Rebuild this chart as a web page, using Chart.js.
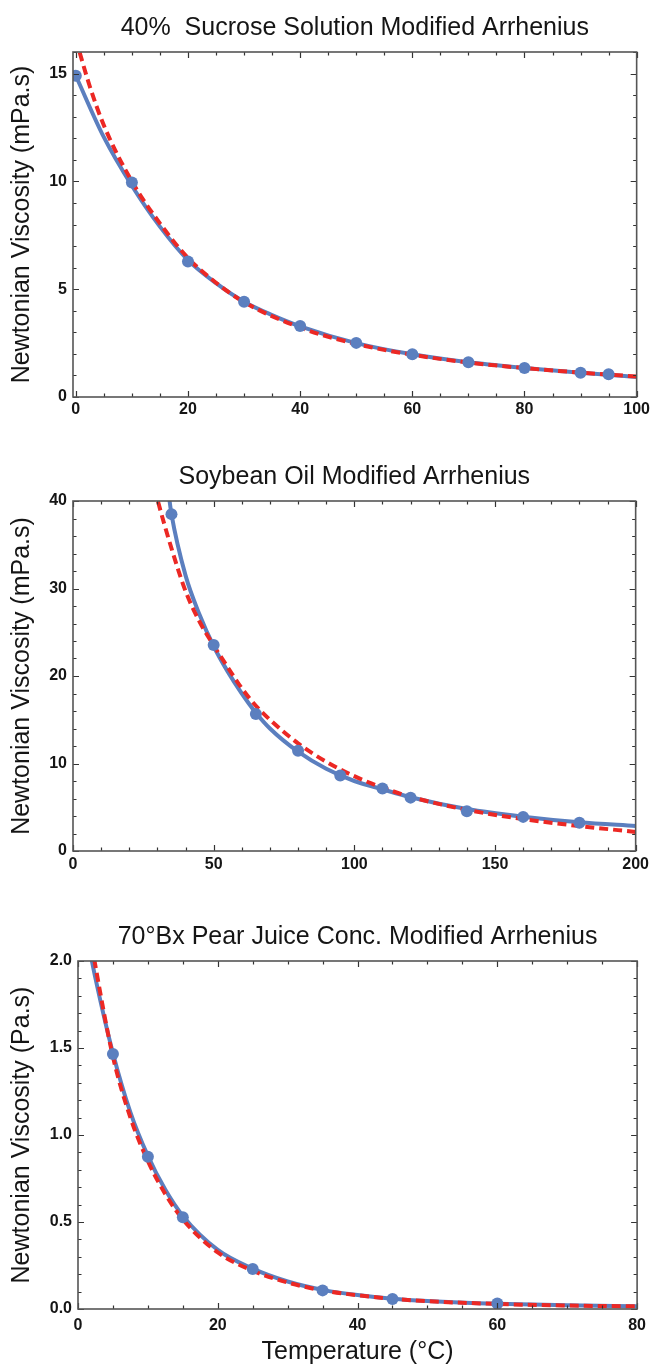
<!DOCTYPE html>
<html>
<head>
<meta charset="utf-8">
<script src="https://cdn.jsdelivr.net/npm/chart.js@4.4.1/dist/chart.umd.min.js"></script>
<style>
    html, body { margin: 0; padding: 0; background: #fff; }
    body { width: 653px; height: 1372px; position: relative; overflow: hidden; }
    canvas { position: absolute; left: 0; }
</style>
</head>
<body>
<canvas id="sucroseChart" width="653" height="440" style="top:0px"></canvas>
<canvas id="soyChart" width="653" height="440" style="top:449px"></canvas>
<canvas id="pearChart" width="653" height="463" style="top:909px"></canvas>
<script>
(function () {
    'use strict';

    // 40% sucrose solution (mPa.s)
    var sucroseTemp = [0, 10, 20, 30, 40, 50, 60, 70, 80, 90, 95];
    var sucroseVisc = [14.9, 9.95, 6.28, 4.42, 3.29, 2.51, 1.98, 1.61, 1.35, 1.13, 1.05];
    var sucroseFitT = [0, 5, 10, 15, 20, 25, 30, 35, 40, 50, 60, 70, 80, 90, 100];
    var sucroseFit = [14.9, 12.05, 9.8, 7.9, 6.35, 5.28, 4.42, 3.8, 3.28, 2.5, 1.98, 1.61, 1.35, 1.13, 0.93];
    var sucroseArrT = [0, 2.5, 5, 10, 15, 20, 25, 30, 40, 50, 60, 70, 80, 90, 100];
    var sucroseArr = [16.6, 14.4, 12.6, 10.0, 8.05, 6.45, 5.3, 4.4, 3.22, 2.46, 1.96, 1.6, 1.34, 1.13, 0.95];
    var sucroseXTicks = [0, 20, 40, 60, 80, 100];
    var sucroseYTicks = [0, 5, 10, 15];

    // soybean oil (mPa.s)
    var soyTemp = [35, 50, 65, 80, 95, 110, 120, 140, 160, 180];
    var soyVisc = [38.5, 23.55, 15.65, 11.45, 8.62, 7.14, 6.1, 4.54, 3.9, 3.24];
    var soyFitT = [34, 35, 40, 45, 50, 55, 60, 65, 70, 80, 90, 100, 110, 120, 140, 160, 180, 200];
    var soyFit = [40.8, 38.5, 31.5, 27.0, 23.4, 20.5, 18.0, 15.8, 14.0, 11.35, 9.4, 8.0, 7.05, 6.15, 4.8, 3.92, 3.28, 2.86];
    var soyArrT = [29, 30, 35, 40, 45, 50, 55, 60, 65, 70, 80, 90, 100, 110, 120, 140, 160, 180, 200];
    var soyArr = [41.5, 40.2, 34.6, 29.7, 26.2, 23.5, 21.0, 18.6, 16.6, 15.0, 12.3, 10.2, 8.55, 7.25, 6.2, 4.7, 3.65, 2.85, 2.18];
    var soyXTicks = [0, 50, 100, 150, 200];
    var soyYTicks = [0, 10, 20, 30, 40];

    // 70 Bx pear juice concentrate (Pa.s)
    var pearTemp = [5, 10, 15, 25, 35, 45, 60];
    var pearVisc = [1.466, 0.875, 0.527, 0.23, 0.107, 0.057, 0.031];
    var pearFitT = [1.5, 2.5, 5, 7.5, 10, 12.5, 15, 20, 25, 30, 35, 40, 45, 50, 60, 70, 80];
    var pearFit = [2.1, 1.9, 1.47, 1.13, 0.88, 0.685, 0.535, 0.34, 0.232, 0.158, 0.11, 0.08, 0.059, 0.046, 0.03, 0.021, 0.016];
    var pearArrT = [2, 2.5, 5, 7.5, 10, 12.5, 15, 20, 25, 30, 35, 40, 45, 50, 60, 70, 80];
    var pearArr = [2.09, 1.97, 1.45, 1.1, 0.85, 0.66, 0.515, 0.325, 0.22, 0.152, 0.107, 0.079, 0.059, 0.045, 0.029, 0.02, 0.015];
    var pearXTicks = [0, 20, 40, 60, 80];
    var pearYTicks = [0, 0.5, 1.0, 1.5, 2.0];

    var BLUE = '#5b7fbf';
    var RED = '#ec2824';
    var INK = '#151515';
    var SANS = '"Liberation Sans", Arial, Helvetica, sans-serif';

    function pts(xs, ys) {
        return xs.map(function (x, i) { return { x: x, y: ys[i] }; });
    }

    function range(a, b, step) {
        var out = [];
        for (var v = a; v <= b + 1e-9; v += step) out.push(Math.round(v * 1000) / 1000);
        return out;
    }

    // frame + inward ticks on all four sides
    var boxTicks = {
        id: 'boxTicks',
        afterDraw: function (chart, args, o) {
            var a = chart.chartArea, ctx = chart.ctx;
            var xs = chart.scales.x, ys = chart.scales.y;
            ctx.save();
            ctx.strokeStyle = '#333';
            ctx.lineWidth = 1.2;
            ctx.beginPath();
            function xMarks(vals, len) {
                vals.forEach(function (v) {
                    var p = Math.round(xs.getPixelForValue(v)) + 0.5;
                    ctx.moveTo(p, a.bottom); ctx.lineTo(p, a.bottom - len);
                    ctx.moveTo(p, a.top); ctx.lineTo(p, a.top + len);
                });
            }
            function yMarks(vals, len) {
                vals.forEach(function (v) {
                    var p = Math.round(ys.getPixelForValue(v)) + 0.5;
                    ctx.moveTo(a.left, p); ctx.lineTo(a.left + len, p);
                    ctx.moveTo(a.right, p); ctx.lineTo(a.right - len, p);
                });
            }
            xMarks(o.xMinor, 3.5);
            xMarks(o.xMajor, 6);
            yMarks(o.yMinor, 3.5);
            yMarks(o.yMajor, 6);
            ctx.stroke();
            ctx.strokeStyle = '#555';
            ctx.lineWidth = 1.6;
            ctx.strokeRect(a.left, a.top, a.right - a.left, a.bottom - a.top);
            ctx.restore();
        }
    };

    function makeChart(id, o) {
        var canvas = document.getElementById(id);
        if (!canvas || typeof Chart === 'undefined') return null;
        return new Chart(canvas.getContext('2d'), {
            type: 'line',
            data: {
                datasets: [
                    {
                        label: 'measured',
                        data: pts(o.t, o.v),
                        showLine: false,
                        pointRadius: 6,
                        pointBackgroundColor: BLUE,
                        pointBorderWidth: 0,
                        order: 0
                    },
                    {
                        label: 'modified Arrhenius',
                        data: pts(o.arrT, o.arr),
                        borderColor: RED,
                        borderWidth: 4,
                        borderDash: [9, 5],
                        pointRadius: 0,
                        cubicInterpolationMode: 'monotone',
                        clip: 0,
                        order: 1
                    },
                    {
                        label: 'fit',
                        data: pts(o.fitT, o.fit),
                        borderColor: BLUE,
                        borderWidth: 4,
                        pointRadius: 0,
                        cubicInterpolationMode: 'monotone',
                        clip: 0,
                        order: 2
                    }
                ]
            },
            options: {
                responsive: false,
                animation: false,
                devicePixelRatio: 1,
                layout: { padding: { left: 0, right: 653 - o.right, top: 0, bottom: 0 } },
                plugins: {
                    legend: { display: false },
                    tooltip: { enabled: false },
                    title: {
                        display: true,
                        text: o.title,
                        fullSize: false,
                        color: INK,
                        font: { family: SANS, size: 25, weight: 'normal', lineHeight: 1.2 },
                        padding: { top: 13, bottom: 9 }
                    },
                    boxTicks: { xMajor: o.xTicks, xMinor: o.xMinor, yMajor: o.yTicks, yMinor: o.yMinor }
                },
                scales: {
                    x: {
                        type: 'linear',
                        min: o.xMin,
                        max: o.xMax,
                        grid: { display: false, drawTicks: false },
                        border: { display: false },
                        afterBuildTicks: function (s) {
                            s.ticks = o.xTicks.map(function (v) { return { value: v }; });
                        },
                        afterFit: function (s) { s.height = o.xAxisH; },
                        ticks: {
                            padding: o.xPad,
                            color: INK,
                            autoSkip: false,
                            maxRotation: 0,
                            font: { family: SANS, size: 16, weight: 'bold' },
                            callback: function (v) { return String(v); }
                        },
                        title: {
                            display: !!o.xTitle,
                            text: o.xTitle || '',
                            color: INK,
                            font: { family: SANS, size: 25, weight: 'normal', lineHeight: 1.2 },
                            padding: { top: 0, bottom: 5 }
                        }
                    },
                    y: {
                        type: 'linear',
                        min: o.yMin,
                        max: o.yMax,
                        grid: { display: false, drawTicks: false },
                        border: { display: false },
                        afterBuildTicks: function (s) {
                            s.ticks = o.yTicks.map(function (v) { return { value: v }; });
                        },
                        afterFit: function (s) { s.width = o.left; },
                        ticks: {
                            padding: 6,
                            color: INK,
                            autoSkip: false,
                            font: { family: SANS, size: 16, weight: 'bold' },
                            callback: function (v) { return o.yFmt ? o.yFmt(v) : String(v); }
                        },
                        title: {
                            display: true,
                            text: o.yTitle,
                            color: INK,
                            font: { family: SANS, size: 25, weight: 'normal', lineHeight: 1.2 },
                            padding: { top: 7, bottom: 0 }
                        }
                    }
                }
            },
            plugins: [boxTicks]
        });
    }

    makeChart('sucroseChart', {
        title: '40%  Sucrose Solution Modified Arrhenius',
        yTitle: 'Newtonian Viscosity (mPa.s)',
        t: sucroseTemp, v: sucroseVisc,
        fitT: sucroseFitT, fit: sucroseFit,
        arrT: sucroseArrT, arr: sucroseArr,
        xMin: -0.5, xMax: 100, yMin: 0, yMax: 16,
        xTicks: sucroseXTicks, xMinor: range(0, 100, 5),
        yTicks: sucroseYTicks, yMinor: range(0, 16, 1),
        left: 73, right: 639, xAxisH: 43, xPad: 3
    });

    makeChart('soyChart', {
        title: 'Soybean Oil Modified Arrhenius',
        yTitle: 'Newtonian Viscosity (mPa.s)',
        t: soyTemp, v: soyVisc,
        fitT: soyFitT, fit: soyFit,
        arrT: soyArrT, arr: soyArr,
        xMin: 0, xMax: 200, yMin: 0, yMax: 40,
        xTicks: soyXTicks, xMinor: range(0, 200, 10),
        yTicks: soyYTicks, yMinor: range(0, 40, 2),
        left: 73, right: 639, xAxisH: 38, xPad: 4
    });

    makeChart('pearChart', {
        title: '70°Bx Pear Juice Conc. Modified Arrhenius',
        yTitle: 'Newtonian Viscosity (Pa.s)',
        xTitle: 'Temperature (°C)',
        t: pearTemp, v: pearVisc,
        fitT: pearFitT, fit: pearFit,
        arrT: pearArrT, arr: pearArr,
        xMin: 0, xMax: 80, yMin: 0, yMax: 2,
        xTicks: pearXTicks, xMinor: range(0, 80, 5),
        yTicks: pearYTicks, yMinor: range(0, 2, 0.1),
        yFmt: function (v) { return Number(v).toFixed(1); },
        left: 78, right: 643, xAxisH: 63, xPad: 7
    });
})();
</script>
</body>
</html>
